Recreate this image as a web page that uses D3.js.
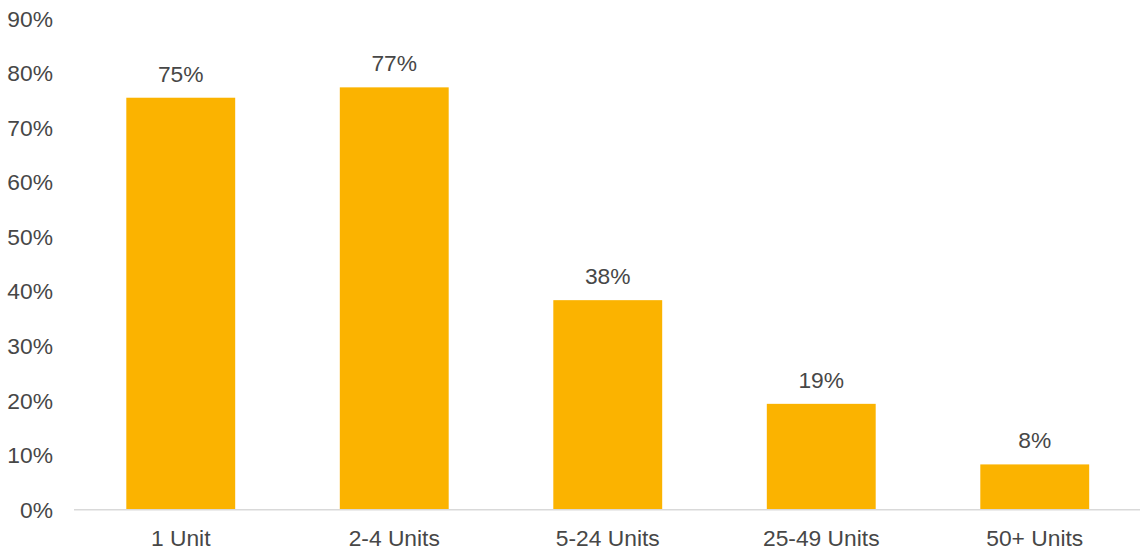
<!DOCTYPE html>
<html><head><meta charset="utf-8">
<script src="https://cdn.jsdelivr.net/npm/d3@7"></script>
<style>body{margin:0;background:#fff}svg{display:block}</style>
</head><body>
<script>
const categories = ["1 Unit","2-4 Units","5-24 Units","25-49 Units","50+ Units"];
const values = [75.5, 77.4, 38.4, 19.4, 8.3];
const valueLabels = ["75%","77%","38%","19%","8%"];
const yTicks = [0,10,20,30,40,50,60,70,80,90];

const W=1140,H=555;
const svg=d3.select("body").append("svg").attr("width",W).attr("height",H);
const font="Liberation Sans, Arial, sans-serif";
const textColor="#474747";
const fs=22.8;
const x=d3.scaleBand().domain(categories).range([74,1141.5]).paddingInner(0.49).paddingOuter(0.245);
const y=d3.scaleLinear().domain([0,90]).range([509.7,18.6]);

// y tick labels
svg.append("g").selectAll("text").data(yTicks).join("text")
  .attr("x",53).attr("y",d=>y(d)).attr("dy","0.35em")
  .attr("text-anchor","end").attr("font-family",font).attr("font-size",fs)
  .attr("fill",textColor).text(d=>d+"%");

// bars
svg.append("g").selectAll("rect").data(values).join("rect")
  .attr("x",(d,i)=>x(categories[i])).attr("width",x.bandwidth())
  .attr("y",d=>y(d)).attr("height",d=>y(0)-y(d)).attr("fill","#FBB300");

// baseline
svg.append("line").attr("x1",74).attr("x2",1140).attr("y1",y(0)).attr("y2",y(0))
  .attr("stroke","#d9d9d9").attr("stroke-width",1.5);

// value labels
svg.append("g").selectAll("text").data(values).join("text")
  .attr("x",(d,i)=>x(categories[i])+x.bandwidth()/2).attr("y",d=>y(d)-16)
  .attr("text-anchor","middle").attr("font-family",font).attr("font-size",fs)
  .attr("fill",textColor).text((d,i)=>valueLabels[i]);

// category labels
svg.append("g").selectAll("text").data(categories).join("text")
  .attr("x",d=>x(d)+x.bandwidth()/2).attr("y",546)
  .attr("text-anchor","middle").attr("font-family",font).attr("font-size",fs)
  .attr("fill",textColor).text(d=>d);
</script>
</body></html>
